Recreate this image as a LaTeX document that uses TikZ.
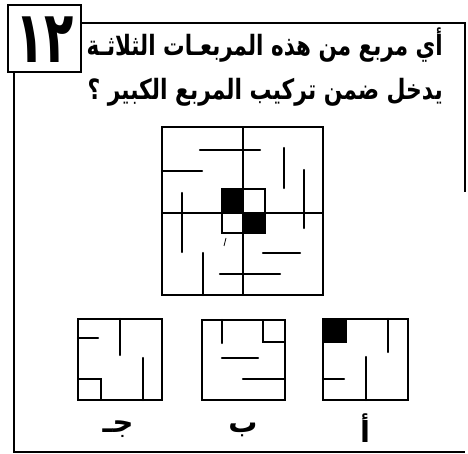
\documentclass[tikz,border=0pt]{standalone}
\usepackage{fontspec}
\newfontfamily\arabicfont[Script=Arabic]{DejaVu Sans}
\TeXXeTstate=1
\usetikzlibrary{positioning}

\begin{document}
\begin{tikzpicture}[
  x=1pt, y=-1pt,
  frame/.style={line width=2pt},
  outline/.style={line width=2.4pt},
  wall/.style={line width=2.2pt, line cap=round},
  cell/.style={line width=1.8pt},
  darkcell/.style={fill=black, draw=black, line width=1.8pt},
  question/.style={font=\arabicfont\bfseries\fontsize{21.5}{21.5}\selectfont, inner sep=0pt},
  numtext/.style={font=\arabicfont\bfseries\fontsize{48}{48}\selectfont, inner sep=0pt},
  choice/.style={font=\arabicfont\bfseries\fontsize{29}{29}\selectfont, inner sep=0pt}
]
  \useasboundingbox (0,0) rectangle (468,454);

  % frame and number box
  \draw[frame] (14,72) -- (14,452) -- (465,452);
  \draw[frame] (81,23) -- (465,23) -- (465,192);
  \draw[frame] (8,5) rectangle (81,72);
  \node[numtext] (num) at (45,40) {\scalebox{1}[1.5]{١٢}};

  % question
  \node[question, anchor=east] (line1) at (443,45) {\scalebox{1}[1.3]{\beginR أي مربع من هذه المربعـات الثلاثـة\endR}};
  \node[question, anchor=east] (line2) at (443,92) {\scalebox{1.015}[1.3]{\beginR يدخل ضمن تركيب المربع الكبير ؟\endR}};

  % big square
  \draw[outline] (162,127) rectangle (323,295);
  \draw[outline] (243,127) -- (243,295);
  \draw[outline] (162,213) -- (323,213);
  \fill[darkcell] (222,189) rectangle (243,213);
  \fill[darkcell] (243,213) rectangle (265,233);
  \draw[cell] (222,189) rectangle (265,233);
  \draw[wall] (200,150) -- (260,150);
  \draw[wall] (162,171) -- (202,171);
  \draw[wall] (284,148) -- (284,188);
  \draw[wall] (304,170) -- (304,228);
  \draw[wall] (182,193) -- (182,252);
  \draw[wall] (263,253) -- (300,253);
  \draw[wall] (203,253) -- (203,295);
  \draw[wall] (220,274) -- (280,274);
  \draw[line width=0.8pt] (226,238) -- (224,246);

  % choice jeem
  \draw[outline] (78,319) rectangle (162,400);
  \draw[wall] (78,338) -- (98,338);
  \draw[wall] (120,319) -- (120,355);
  \draw[wall] (143,358) -- (143,400);
  \draw[cell] (78,379) rectangle (101,400);
  \node[choice] (jeem) at (118,429) {\beginR جـ\endR};

  % choice beh
  \draw[outline] (202,320) rectangle (285,400);
  \draw[wall] (222,320) -- (222,343);
  \draw[cell] (263,320) rectangle (285,342);
  \draw[wall] (222,358) -- (258,358);
  \draw[wall] (243,379) -- (285,379);
  \node[choice] (beh) at (243,430) {\beginR ب\endR};

  % choice alef
  \draw[outline] (323,319) rectangle (408,400);
  \fill[darkcell] (323,319) rectangle (346,342);
  \draw[wall] (388,319) -- (388,352);
  \draw[wall] (366,357) -- (366,400);
  \draw[wall] (323,379) -- (344,379);
  \node[choice] (alef) at (365,428) {\beginR أ\endR};
\end{tikzpicture}
\end{document}
